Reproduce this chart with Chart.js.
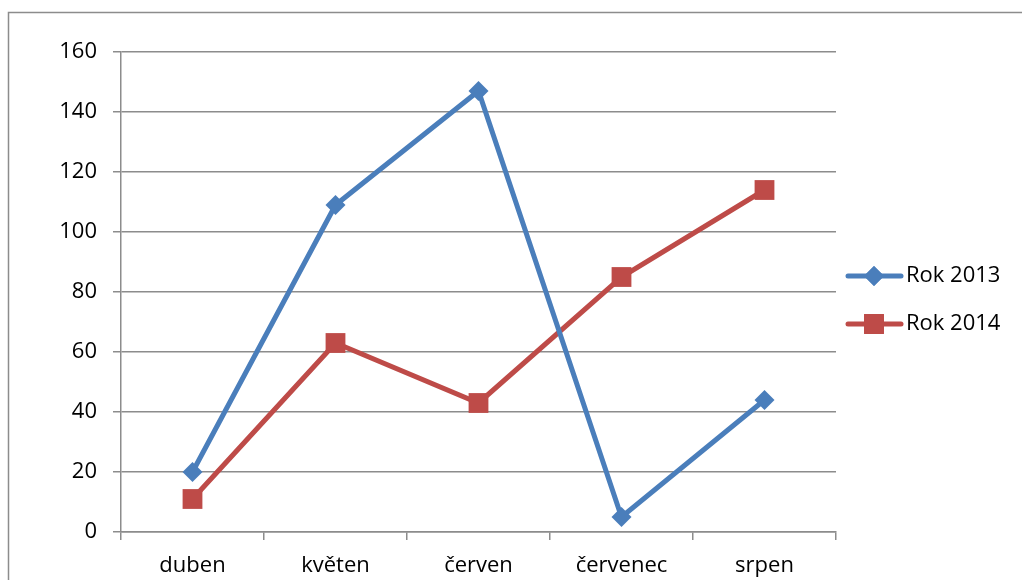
<!DOCTYPE html>
<html>
<head>
<meta charset="utf-8">
<script src="https://cdn.jsdelivr.net/npm/chart.js@4/dist/chart.umd.min.js"></script>
<style>
  html, body { margin: 0; padding: 0; background: #fff; }
  #wrap { width: 1022px; height: 580px; position: relative; }
</style>
</head>
<body>
<div id="wrap"><canvas id="c" width="1022" height="580"></canvas></div>
<script>
const months = ['duben', 'květen', 'červen', 'červenec', 'srpen'];
const rok2013 = [20, 109, 147, 5, 44];
const rok2014 = [11, 63, 43, 85, 114];
const seriesNames = ['Rok 2013', 'Rok 2014'];
const yTicks = [0, 20, 40, 60, 80, 100, 120, 140, 160];

const BLUE = '#4A7EBB';
const RED = '#BE4B48';
const GRID = '#8C8C8C';
const FONT = '"Open Sans", Lato, sans-serif';
const FONT_SIZE = 22;

// outer frame and a legend that shows line + marker like the series
const framePlugin = {
  id: 'frame',
  afterDraw(chart) {
    const ctx = chart.ctx;
    ctx.save();
    ctx.strokeStyle = GRID;
    ctx.lineWidth = 1.5;
    ctx.beginPath();
    ctx.moveTo(8.5, 600);
    ctx.lineTo(8.5, 12.5);
    ctx.lineTo(1030, 12.5);
    ctx.stroke();

    const items = [
      { name: seriesNames[0], color: BLUE, style: 'rectRot', radius: 10, y: 276 },
      { name: seriesNames[1], color: RED, style: 'rect', radius: 14, y: 324 }
    ];
    items.forEach(it => {
      ctx.strokeStyle = it.color;
      ctx.lineWidth = 5;
      ctx.lineCap = 'round';
      ctx.beginPath();
      ctx.moveTo(848, it.y);
      ctx.lineTo(901, it.y);
      ctx.stroke();
      ctx.fillStyle = it.color;
      Chart.helpers.drawPoint(ctx, { pointStyle: it.style, radius: it.radius, rotation: 0, borderWidth: 0 }, 874, it.y);
      ctx.fill();
      ctx.fillStyle = '#000';
      ctx.font = FONT_SIZE + 'px ' + FONT;
      ctx.textBaseline = 'middle';
      ctx.textAlign = 'left';
      ctx.fillText(it.name, 906, it.y);
    });
    ctx.restore();
  }
};

new Chart(document.getElementById('c'), {
  type: 'line',
  data: {
    labels: months,
    datasets: [
      {
        label: seriesNames[0],
        data: rok2013,
        borderColor: BLUE,
        backgroundColor: BLUE,
        borderWidth: 5,
        pointStyle: 'rectRot',
        pointRadius: 10,
        pointHoverRadius: 10,
        pointBorderWidth: 0,
        tension: 0
      },
      {
        label: seriesNames[1],
        data: rok2014,
        borderColor: RED,
        backgroundColor: RED,
        borderWidth: 5,
        pointStyle: 'rect',
        pointRadius: 14,
        pointHoverRadius: 14,
        pointBorderWidth: 0,
        tension: 0
      }
    ]
  },
  options: {
    responsive: false,
    animation: false,
    layout: { padding: { left: 0, right: 186, top: 52, bottom: 0 } },
    plugins: { legend: { display: false }, tooltip: { enabled: false } },
    scales: {
      x: {
        offset: true,
        grid: {
          display: true,
          drawOnChartArea: false,
          drawTicks: true,
          tickLength: 8,
          color: GRID,
          lineWidth: 1.5,
          offset: true
        },
        border: { color: GRID, width: 1.5 },
        ticks: { color: '#000', font: { family: FONT, size: FONT_SIZE }, padding: 13, maxRotation: 0 },
        afterFit(s) { s.height = 48; }
      },
      y: {
        min: 0,
        max: 160,
        afterBuildTicks(s) { s.ticks = yTicks.map(v => ({ value: v })); },
        grid: { color: GRID, lineWidth: 1.5, tickLength: 8 },
        border: { color: GRID, width: 1.5 },
        ticks: { color: '#000', font: { family: FONT, size: FONT_SIZE }, padding: 16 },
        afterFit(s) { s.width = 121; }
      }
    }
  },
  plugins: [framePlugin]
});
</script>
</body>
</html>
